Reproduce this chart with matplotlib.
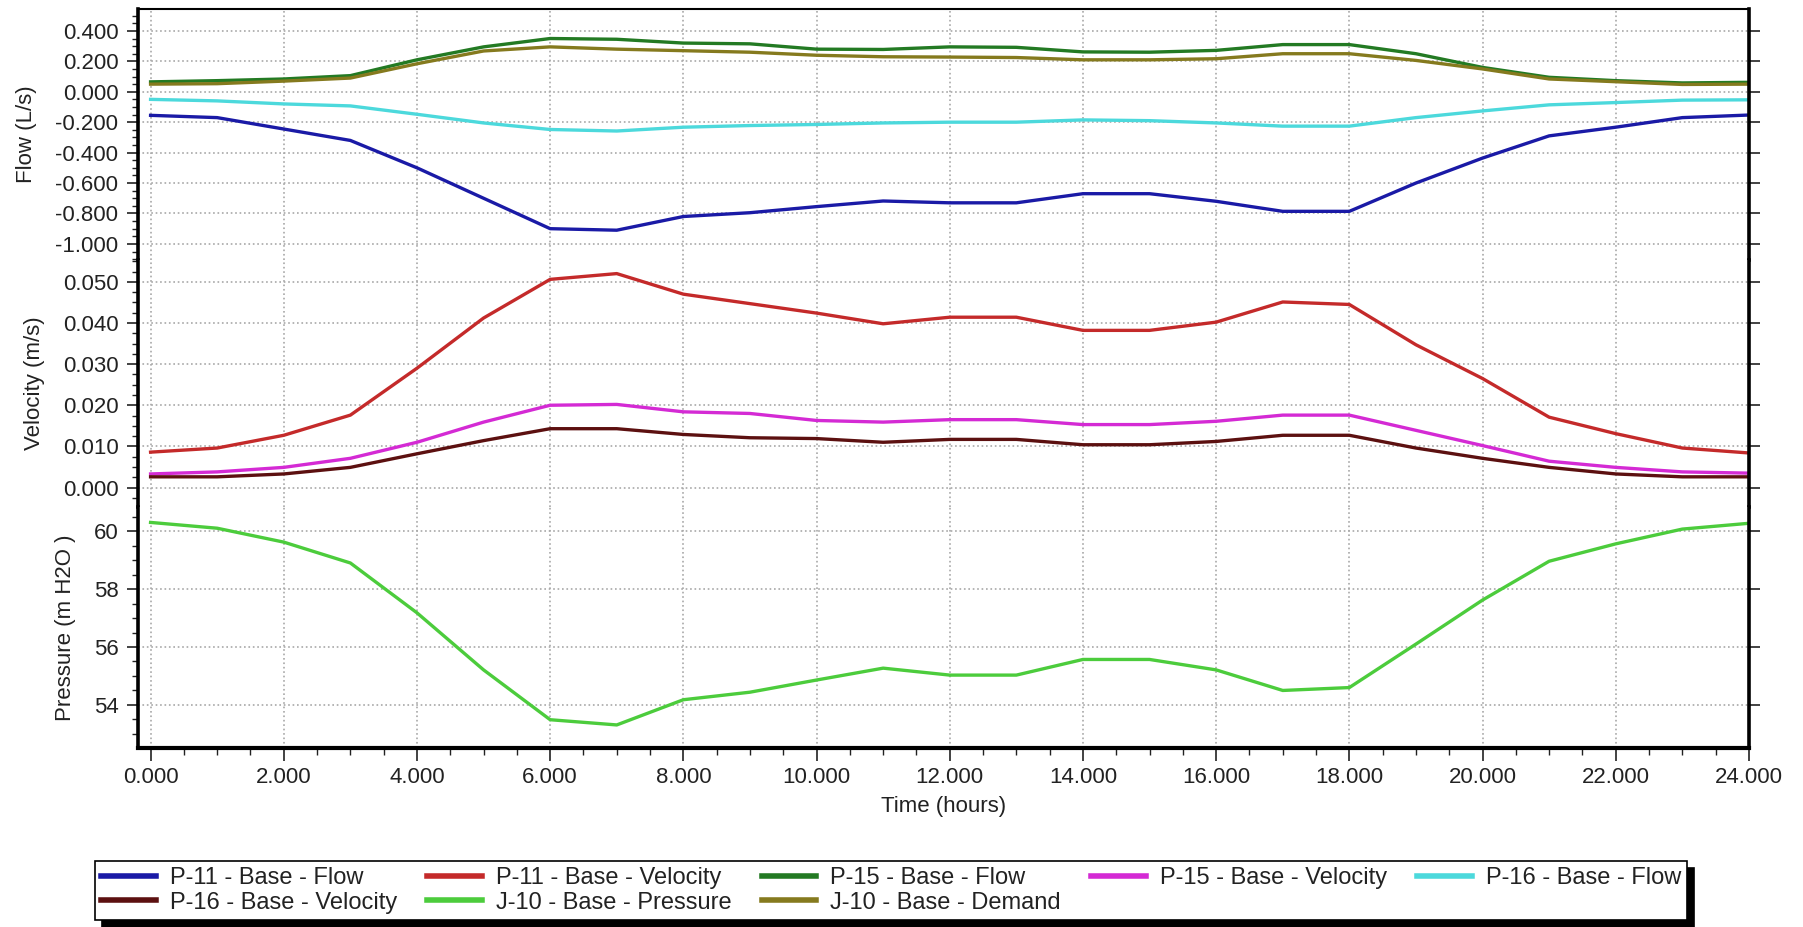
import matplotlib
matplotlib.use("Agg")
import matplotlib.pyplot as plt
from matplotlib.ticker import MultipleLocator, AutoMinorLocator, FormatStrFormatter

plt.rcParams['font.family'] = ['Liberation Sans', 'DejaVu Sans']
plt.rcParams['text.color'] = '#222222'
plt.rcParams['axes.labelcolor'] = '#222222'
plt.rcParams['xtick.color'] = '#222222'
plt.rcParams['ytick.color'] = '#222222'

# hourly values
hours = list(range(25))
p11_flow = [-0.155, -0.17, -0.245, -0.32, -0.50, -0.70, -0.90, -0.91, -0.82, -0.795, -0.755, -0.718,
            -0.73, -0.73, -0.67, -0.67, -0.72, -0.786, -0.786, -0.60, -0.436, -0.29, -0.233, -0.17, -0.153]
p15_flow = [0.065, 0.073, 0.084, 0.106, 0.21, 0.295, 0.35, 0.345, 0.32, 0.315, 0.28, 0.278,
            0.295, 0.292, 0.262, 0.26, 0.272, 0.31, 0.31, 0.25, 0.16, 0.095, 0.073, 0.058, 0.062]
j10_demand = [0.05, 0.053, 0.07, 0.09, 0.184, 0.268, 0.295, 0.28, 0.27, 0.26, 0.24, 0.23,
              0.228, 0.225, 0.21, 0.21, 0.217, 0.25, 0.25, 0.206, 0.15, 0.084, 0.066, 0.048, 0.05]
p16_flow = [-0.05, -0.06, -0.08, -0.093, -0.148, -0.205, -0.248, -0.258, -0.233, -0.222, -0.215, -0.205,
            -0.2, -0.2, -0.185, -0.19, -0.205, -0.226, -0.226, -0.17, -0.126, -0.086, -0.071, -0.055, -0.053]

p11_vel = [0.0086, 0.0096, 0.0127, 0.0176, 0.029, 0.0412, 0.0506, 0.052, 0.047, 0.0447, 0.0424, 0.0398,
           0.0414, 0.0414, 0.0382, 0.0382, 0.0402, 0.0451, 0.0445, 0.0347, 0.0265, 0.0171, 0.0131, 0.0096, 0.0084]
p15_vel = [0.0033, 0.0038, 0.0049, 0.0071, 0.011, 0.0159, 0.02, 0.0202, 0.0184, 0.018, 0.0163, 0.0159,
           0.0165, 0.0165, 0.0153, 0.0153, 0.0161, 0.0176, 0.0176, 0.0139, 0.0102, 0.0064, 0.0049, 0.0038, 0.0035]
p16_vel = [0.0026, 0.0026, 0.0033, 0.0049, 0.0082, 0.0114, 0.0143, 0.0143, 0.0129, 0.0121, 0.0119, 0.011,
           0.0117, 0.0117, 0.0104, 0.0104, 0.0112, 0.0127, 0.0127, 0.0096, 0.0071, 0.0049, 0.0033, 0.0026, 0.0026]

j10_pressure = [60.3, 60.1, 59.62, 58.9, 57.18, 55.21, 53.49, 53.31, 54.18, 54.44, 54.86, 55.27,
                55.03, 55.03, 55.57, 55.57, 55.21, 54.5, 54.6, 56.1, 57.62, 58.96, 59.56, 60.07, 60.27]

colors = {
    "p11_flow": "#1a1aa6", "p11_vel": "#c42a2a", "p15_flow": "#237a23", "p15_vel": "#d42ad4",
    "p16_flow": "#4cd9dc", "p16_vel": "#5c1010", "j10_pres": "#4ccc3c", "j10_dem": "#857a1e",
}
lw = 2.4

fig = plt.figure(figsize=(18.03, 9.27), dpi=100)
left, width = 0.0765, 0.8935
ax_flow = fig.add_axes([left, 0.7195, width, 0.9903 - 0.7195])
ax_vel = fig.add_axes([left, 0.453, width, 0.7195 - 0.453], sharex=ax_flow)
ax_pres = fig.add_axes([left, 0.1936, width, 0.453 - 0.1936], sharex=ax_flow)

l_p11f, = ax_flow.plot(hours, p11_flow, color=colors["p11_flow"], lw=lw, label="P-11 - Base - Flow")
l_p15f, = ax_flow.plot(hours, p15_flow, color=colors["p15_flow"], lw=lw, label="P-15 - Base - Flow")
l_j10d, = ax_flow.plot(hours, j10_demand, color=colors["j10_dem"], lw=lw, label="J-10 - Base - Demand")
l_p16f, = ax_flow.plot(hours, p16_flow, color=colors["p16_flow"], lw=lw, label="P-16 - Base - Flow")

l_p11v, = ax_vel.plot(hours, p11_vel, color=colors["p11_vel"], lw=lw, label="P-11 - Base - Velocity")
l_p15v, = ax_vel.plot(hours, p15_vel, color=colors["p15_vel"], lw=lw, label="P-15 - Base - Velocity")
l_p16v, = ax_vel.plot(hours, p16_vel, color=colors["p16_vel"], lw=lw, label="P-16 - Base - Velocity")

l_j10p, = ax_pres.plot(hours, j10_pressure, color=colors["j10_pres"], lw=lw, label="J-10 - Base - Pressure")

ax_flow.set_ylim(-1.106, 0.544)
ax_vel.set_ylim(-0.00475, 0.0553)
ax_pres.set_ylim(52.53, 60.83)
ax_flow.set_xlim(-0.19, 24.0)

ax_flow.yaxis.set_major_locator(MultipleLocator(0.2))
ax_flow.yaxis.set_major_formatter(FormatStrFormatter('%.3f'))
ax_vel.yaxis.set_major_locator(MultipleLocator(0.01))
ax_vel.yaxis.set_major_formatter(FormatStrFormatter('%.3f'))
ax_pres.yaxis.set_major_locator(MultipleLocator(2))
ax_pres.yaxis.set_major_formatter(FormatStrFormatter('%d'))
ax_pres.xaxis.set_major_locator(MultipleLocator(2))
ax_pres.xaxis.set_minor_locator(MultipleLocator(0.5))
ax_pres.xaxis.set_major_formatter(FormatStrFormatter('%.3f'))

ax_flow.set_ylabel("Flow (L/s)", fontsize=16, labelpad=13)
ax_vel.set_ylabel("Velocity (m/s)", fontsize=16, labelpad=13)
ax_pres.set_ylabel("Pressure (m H2O )", fontsize=16, labelpad=13)
ax_pres.set_xlabel("Time (hours)", fontsize=16, labelpad=6)

for ax in (ax_flow, ax_vel, ax_pres):
    ax.yaxis.set_minor_locator(AutoMinorLocator(4))
    ax.grid(True, which='major', color='#a8a8a8', linestyle=':', linewidth=1.2)
    ax.tick_params(axis='y', which='major', direction='out', length=8, width=1.2, labelsize=16, pad=6,
                   right=True)
    ax.tick_params(axis='y', which='minor', direction='out', length=4, width=1)
    ax.tick_params(axis='x', which='both', bottom=False, labelbottom=False)
    for side in ('left', 'right'):
        ax.spines[side].set_linewidth(2.6)
        ax.spines[side].set_color('black')
    ax.spines['top'].set_visible(False)
    ax.spines['bottom'].set_visible(False)

ax_flow.spines['top'].set_visible(True)
ax_flow.spines['top'].set_linewidth(1.5)
ax_pres.spines['bottom'].set_visible(True)
ax_pres.spines['bottom'].set_linewidth(3)
ax_pres.tick_params(axis='x', which='major', bottom=True, labelbottom=True, direction='out',
                    length=9, width=1.2, labelsize=16, pad=5)
ax_pres.tick_params(axis='x', which='minor', bottom=True, direction='out', length=5, width=1)

# legend laid out row by row like the original (matplotlib fills columns first)
row_order = [l_p11f, l_p11v, l_p15f, l_p15v, l_p16f, l_p16v, l_j10p, l_j10d]
handles = [row_order[i] for i in (0, 5, 1, 6, 2, 7, 3, 4)]
leg = fig.legend(handles=handles, labels=[h.get_label() for h in handles], ncol=5,
                 loc='upper left', bbox_to_anchor=(0.0529, 0.0, 0.8828, 0.0712), mode='expand',
                 fontsize=17, frameon=True, fancybox=False, edgecolor='black', framealpha=1,
                 handlelength=2.3, handletextpad=0.6, columnspacing=0.9, labelspacing=0.12,
                 borderpad=0.25, borderaxespad=0,
                 shadow={'ox': 5, 'oy': -5, 'color': 'black', 'alpha': 1})
leg.get_frame().set_linewidth(1.2)
for line in leg.get_lines():
    line.set_linewidth(4)

fig.savefig("out.png", dpi=100)
